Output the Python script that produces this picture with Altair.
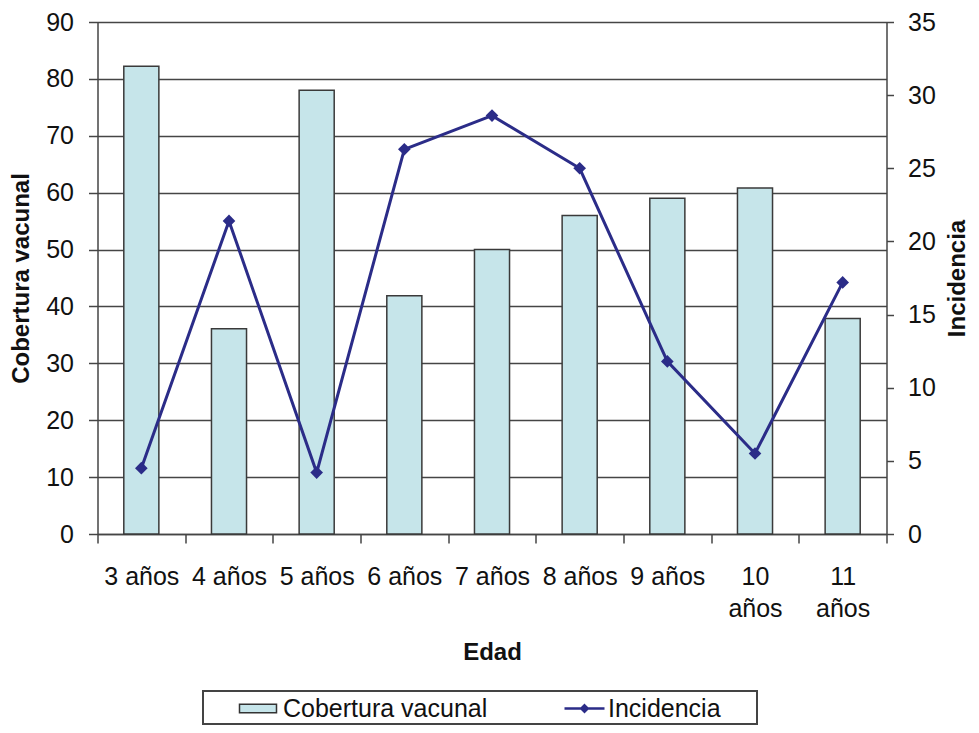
import altair as alt
import pandas as pd

edades = ["3 años", "4 años", "5 años", "6 años", "7 años", "8 años", "9 años", "10 años", "11 años"]
cobertura = [82.2, 36.1, 78.0, 41.9, 50.0, 56.0, 59.0, 60.8, 37.9]
incidencia = [4.5, 21.4, 4.2, 26.3, 28.6, 25.0, 11.8, 5.5, 17.2]
series = ["Cobertura vacunal", "Incidencia"]

y_left_ticks = list(range(0, 91, 10))
y_right_ticks = list(range(0, 36, 5))

CYAN = "#C6E5EA"
NAVY = "#2B2C88"
GRID = "#454545"
FONT = "Liberation Sans"

W, H = 789, 512
LEG_Y = 669

df = pd.DataFrame({
    "edad": edades,
    "cobertura": cobertura,
    "incidencia": incidencia,
    "serie_c": [series[0]] * len(edades),
    "serie_i": [series[1]] * len(edades),
})

x_enc = alt.X(
    "edad:N",
    sort=edades,
    title="Edad",
    scale=alt.Scale(paddingInner=0, paddingOuter=0),
    axis=alt.Axis(
        labelAngle=0,
        labelFontSize=25,
        labelColor="#111",
        labelBaseline="alphabetic",
        labelPadding=41,
        labelLineHeight=32,
        labelExpr="length(datum.label) > 6 ? split(datum.label, ' ') : datum.label",
        tickBand="extent",
        tickSize=9,
        tickColor=GRID,
        tickWidth=1.5,
        domainColor=GRID,
        domainWidth=1.5,
        grid=False,
        titleFontSize=24,
        titleFontWeight="bold",
        titleColor="#111",
        titleBaseline="alphabetic",
        titleY=125,
    ),
)

legend_c = alt.Legend(
    orient="none",
    legendX=105.5,
    legendY=LEG_Y,
    direction="horizontal",
    title=None,
    labelFont=FONT,
    labelFontSize=25,
    labelColor="#111",
    labelLimit=400,
    symbolType="M-1.85,-0.42H1.85V0.42H-1.85Z",
    symbolSize=400,
    symbolFillColor=CYAN,
    symbolStrokeColor="#333333",
    symbolStrokeWidth=1.5,
    symbolOpacity=1,
    symbolOffset=37.5,
    labelOffset=12.5,
    padding=5,
)

legend_i = alt.Legend(
    orient="none",
    legendX=469.5,
    legendY=LEG_Y,
    direction="horizontal",
    title=None,
    labelFont=FONT,
    labelFontSize=25,
    labelColor="#111",
    labelLimit=400,
    symbolType="M-2,0H2M0,-0.32L0.32,0L0,0.32L-0.32,0Z",
    symbolSize=400,
    symbolFillColor=NAVY,
    symbolStrokeColor=NAVY,
    symbolStrokeWidth=2.5,
    symbolOpacity=1,
    symbolOffset=0,
    labelOffset=11,
    padding=5,
)

bars = alt.Chart(df).mark_bar(
    stroke="#3a3a3a", strokeWidth=1.5, width=alt.RelativeBandSize(0.4)
).encode(
    x=x_enc,
    y=alt.Y(
        "cobertura:Q",
        title="Cobertura vacunal",
        scale=alt.Scale(domain=[0, 90], nice=False),
        axis=alt.Axis(
            values=y_left_ticks,
            grid=True,
            gridColor=GRID,
            gridWidth=1.5,
            gridOpacity=1,
            tickSize=9,
            tickColor=GRID,
            tickWidth=1.5,
            domainColor=GRID,
            domainWidth=1.5,
            labelFontSize=25,
            labelColor="#111",
            labelPadding=15,
            titleFontSize=24,
            titleFontWeight="bold",
            titleColor="#111",
            titleAngle=270,
            titleAlign="center",
            titleBaseline="alphabetic",
            titleX=-69.5,
            titleY=H / 2,
        ),
    ),
    color=alt.Color(
        "serie_c:N",
        scale=alt.Scale(domain=[series[0]], range=[CYAN]),
        legend=legend_c,
    ),
)

y_right = alt.Y(
    "incidencia:Q",
    title="Incidencia",
    scale=alt.Scale(domain=[0, 35], nice=False),
    axis=alt.Axis(
        orient="right",
        values=y_right_ticks,
        grid=False,
        tickSize=7,
        tickColor=GRID,
        tickWidth=1.5,
        domainColor=GRID,
        domainWidth=1.5,
        labelFontSize=25,
        labelColor="#111",
        labelPadding=14,
        titleFontSize=24,
        titleFontWeight="bold",
        titleColor="#111",
        titleAngle=270,
        titleAlign="center",
        titleBaseline="alphabetic",
        titleX=78,
        titleY=H / 2,
    ),
)

line = alt.Chart(df).mark_line(color=NAVY, strokeWidth=3).encode(x=x_enc, y=y_right)

points = alt.Chart(df).mark_point(shape="diamond", size=160, filled=True, opacity=1).encode(
    x=x_enc,
    y=y_right,
    color=alt.Color(
        "serie_i:N",
        scale=alt.Scale(domain=[series[1]], range=[NAVY]),
        legend=legend_i,
    ),
)

# frame drawn around the two legend entries
legend_frame = alt.Chart(pd.DataFrame({"frame": [0]})).mark_rect(
    fill=None, fillOpacity=0, stroke="#444444", strokeWidth=2
).encode(
    x=alt.value(105.5),
    x2=alt.value(659.5),
    y=alt.value(LEG_Y),
    y2=alt.value(LEG_Y + 33),
)

chart = (
    alt.layer(bars, alt.layer(line, points), legend_frame)
    .resolve_scale(y="independent", color="independent")
    .resolve_legend(color="independent")
    .properties(
        width=W,
        height=H,
        autosize=alt.AutoSizeParams(type="none"),
        padding={"left": 89.5, "top": 14, "right": 84, "bottom": 191},
    )
    .configure(font=FONT)
    .configure_view(stroke=None)
)

chart.save("out.html", embed_options={"renderer": "svg", "actions": False})
